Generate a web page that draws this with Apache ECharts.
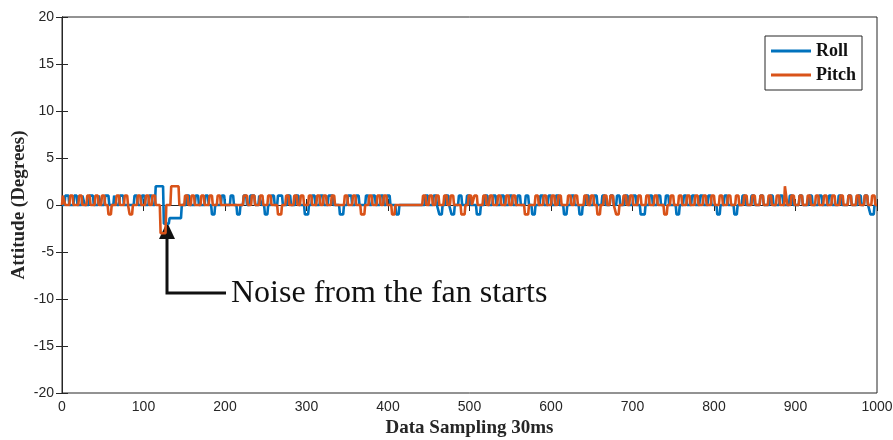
<!DOCTYPE html>
<html>
<head>
<meta charset="utf-8">
<script src="https://cdn.jsdelivr.net/npm/echarts@6/dist/echarts.min.js"></script>
<style>html,body{margin:0;padding:0;background:#fff}#c{width:893px;height:440px}</style>
</head>
<body>
<div id="c"></div>
<script>
// x axis ticks and y axis ticks
const xTicks = [0,100,200,300,400,500,600,700,800,900,1000];
const yTicks = [-20,-15,-10,-5,0,5,10,15,20];
const seriesNames = ['Roll','Pitch'];
// pulses: [startSample, endSample, degrees]
const rollPulses = [[3,8,1],[14,18,1],[24,27,1],[33,38,1],[44,47,1],[52,57,1],[63,66,1],[70,75,1],[88,92,1],[97,101,1],[106,110,1],
 [114,124,2],[124,131,-2],[131,146,-1.4],
 [152,156,1],[163,167,1],[175,179,1],[183,187,-1],[195,199,1],[206,210,1],[214,218,-1],[222,226,1],[230,236,1],[241,244,1],[248,252,-1],[256,260,1],[264,270,1],[276,280,1],[286,290,1],[297,302,-1],[306,310,1],[316,320,1],[326,332,1],[340,345,-1],[350,355,1],[360,364,1],[372,376,1],[380,384,1],[390,394,1],[398,402,1],[409,413,-1],
 [445,449,1],[455,459,1],[462,466,-1],[470,474,1],[477,481,-1],[486,490,1],[496,500,1],[508,513,-1],[518,522,1],[528,532,1],[538,542,1],[548,552,1],[558,562,1],[568,572,1],[576,580,-1],[586,590,1],[596,600,1],[605,609,1],[615,619,-1],[624,628,1],[634,638,-1],[642,646,1],[652,656,1],[662,666,1],[672,676,1],[680,684,1],[690,694,1],[700,704,1],[709,715,-1],[720,724,1],[730,734,1],[740,744,1],[753,757,-1],[762,766,1],[772,776,1],[782,786,1],[792,796,1],[803,807,-1],[812,816,1],[824,828,-1],[834,838,1],[845,849,1],[856,860,1],[868,872,1],[880,884,1],[892,896,1],[904,908,1],[916,920,1],[928,932,1],[940,944,1],[952,956,1],[964,968,1],[976,980,1],[984,988,1],[991,996,-1]];
const pitchPulses = [[0,3,1],[9,13,1],[20,24,1],[30,34,1],[40,44,1],[48,52,1],[56,60,-1],[66,70,1],[76,80,1],[82,86,-1],[92,96,1],[102,106,1],[110,114,1],
 [120,127,-3],[127,133,0],[133,143,2],
 [150,154,1],[158,162,1],[170,174,1],[180,184,1],[190,194,1],[222,227,1],[232,236,1],[242,246,1],[252,256,1],[264,269,-1],[274,278,1],[284,288,1],[292,296,1],[302,306,1],[312,316,1],[320,324,1],[330,334,1],[346,350,1],[356,360,1],[366,371,-1],[376,380,1],[386,390,1],[394,398,1],[404,408,-1],
 [442,446,1],[450,454,1],[458,462,1],[468,472,1],[476,480,1],[489,494,-1],[498,502,1],[505,509,1],[516,520,1],[524,528,1],[534,538,1],[544,548,1],[552,556,1],[567,572,-1],[580,584,1],[590,594,1],[600,604,1],[608,612,1],[620,624,1],[628,632,1],[640,644,1],[648,652,1],[656,660,-1],[664,668,1],[672,676,1],[679,683,-1],[688,692,1],[696,700,1],[706,710,1],[716,720,1],[726,730,1],[738,742,-1],[746,750,1],[756,760,1],[766,770,1],[776,780,1],[786,790,1],[796,800,1],[806,810,1],[816,820,1],[826,830,1],[836,840,1],[846,850,1],[856,860,1],[866,870,1],[876,880,1],[886,889,2],[894,898,1],[904,908,1],[914,918,1],[924,928,1],[934,938,1],[944,948,1],[954,958,1],[964,968,1],[974,978,1],[984,988,1],[993,997,1]];

function toPoints(pulses){
  const pts=[[0,0]]; let last=null;
  for(const p of pulses){
    if(last && last[1]===p[0]){ pts.push([p[0]+1,p[2]]); }
    else { if(last) pts.push([last[1]+1,0]); pts.push([p[0],0]); pts.push([p[0]+1,p[2]]); }
    pts.push([p[1],p[2]]); last=p;
  }
  pts.push([Math.min(last[1]+1,1000),0]); pts.push([1000,0]);
  return pts;
}

const chart = echarts.init(document.getElementById('c'), null, {renderer:'canvas'});
const axisTxt = {color:'#262626', fontFamily:'Liberation Sans, Arial', fontSize:14};
const titleFont = {fontFamily:'Liberation Serif, Times New Roman, serif', fontWeight:'bold', fontSize:19, color:'#262626'};
const tick = {inside:true,length:6,lineStyle:{color:'#262626'}};
chart.setOption({
  animation:false,
  grid:{left:62,right:16,top:17,bottom:47,containLabel:false,outerBoundsMode:'none',show:true,borderColor:'#262626',borderWidth:1,backgroundColor:'#fff'},
  legend:{data:seriesNames,orient:'vertical',right:31,top:36,itemWidth:40,itemHeight:3,itemGap:6,icon:'rect',
    borderColor:'#262626',borderWidth:1,backgroundColor:'#fff',padding:[6,6,6,6],
    textStyle:{fontFamily:'Liberation Serif, serif',fontWeight:'bold',fontSize:18,color:'#111'}},
  xAxis:[
   {type:'value',min:xTicks[0],max:xTicks[xTicks.length-1],interval:100,
    name:'Data Sampling 30ms',nameLocation:'middle',nameGap:26,nameMoveOverlap:false,nameTextStyle:titleFont,
    axisLine:{show:true,lineStyle:{color:'#262626'}},axisTick:tick,
    axisLabel:Object.assign({margin:7,formatter:v=>String(v)},axisTxt),splitLine:{show:false}},
   {type:'value',position:'top',min:0,max:1000,interval:100,axisLine:{show:true,lineStyle:{color:'#262626'}},
    axisTick:tick,axisLabel:{show:false},splitLine:{show:false}}
  ],
  yAxis:[
   {type:'value',min:yTicks[0],max:yTicks[yTicks.length-1],interval:5,
    name:'Attitude (Degrees)',nameLocation:'middle',nameGap:33,nameMoveOverlap:false,nameTextStyle:titleFont,
    axisLine:{show:true,lineStyle:{color:'#262626'}},axisTick:tick,
    axisLabel:Object.assign({margin:8},axisTxt),splitLine:{show:false}},
   {type:'value',position:'right',min:-20,max:20,interval:5,axisLine:{show:true,lineStyle:{color:'#262626'}},
    axisTick:tick,axisLabel:{show:false},splitLine:{show:false}}
  ],
  series:[
   {name:seriesNames[0],type:'line',data:toPoints(rollPulses),showSymbol:false,color:'#0072BD',lineStyle:{width:2.6,color:'#0072BD'}},
   {name:seriesNames[1],type:'line',data:toPoints(pitchPulses),showSymbol:false,color:'#D95319',lineStyle:{width:2.6,color:'#D95319'}}
  ],
  graphic:[
   {type:'polyline',shape:{points:[[167,238],[167,293],[226,293]]},style:{stroke:'#111',lineWidth:3,fill:null}},
   {type:'polygon',shape:{points:[[167,222],[159,239],[175,239]]},style:{fill:'#111'}},
   {type:'text',left:231,top:278,style:{text:'Noise from the fan starts',font:'32px "Liberation Serif", serif',fill:'#111'}}
  ]
});
</script>
</body>
</html>
